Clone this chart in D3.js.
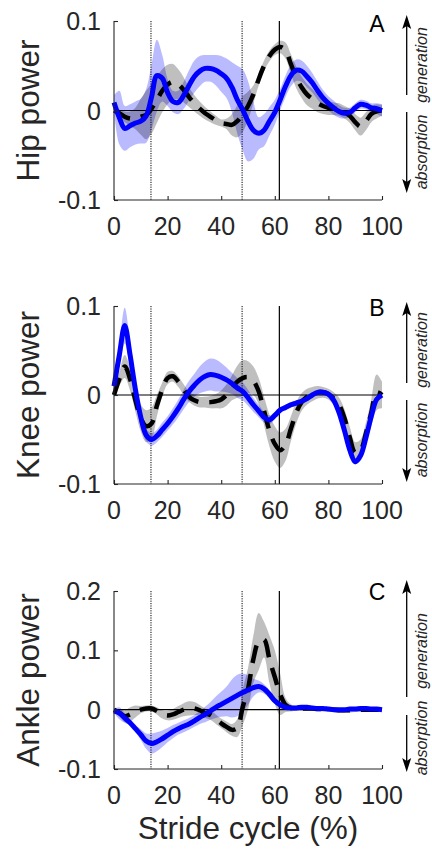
<!DOCTYPE html>
<html><head><meta charset="utf-8">
<script src="https://cdn.jsdelivr.net/npm/d3@7"></script>
<style>
body{margin:0;background:#fff}
svg{display:block}
text{font-family:"Liberation Sans",Arial,Helvetica,sans-serif;fill:#262626}
</style>
</head><body>
<svg id="chart" width="432" height="855"></svg>
<script>
// ---------- DATA ----------
const stride = [0,2,4,6,8,10,12,14,16,18,20,22,24,26,28,30,32,34,36,38,40,42,44,46,48,50,52,54,56,58,60,62,64,66,68,70,72,74,76,78,80,82,84,86,88,90,92,94,96,98,100];
const xTicks = [0,20,40,60,80,100];
const yTicksAB = [-0.1,0,0.1];
const yTicksC = [-0.1,0,0.1,0.2];
const dottedEvents = [13.8,47.8];
const solidEvents = [61.7];

const hipBlue = [0.009,-0.008,-0.020,-0.017,-0.014,-0.012,-0.006,0.015,0.039,0.036, 0.020,0.010,0.009,0.017,0.028,0.038,0.044,0.047,0.047,0.045, 0.041,0.036,0.026,0.012,0.001,-0.012,-0.022,-0.0255,-0.022,-0.012, -0.002,0.012,0.027,0.039,0.045,0.044,0.038,0.031,0.022,0.014, 0.008,0.003,-0.001,-0.003,-0.002,0.003,0.007,0.006,0.003,0.002, 0.0];
const hipBlueSd = [0.008,0.03,0.025,0.024,0.024,0.025,0.03,0.036,0.04,0.026, 0.015,0.012,0.013,0.015,0.017,0.018,0.017,0.015,0.015,0.017, 0.02,0.022,0.028,0.038,0.045,0.045,0.032,0.018,0.018,0.016, 0.014,0.012,0.012,0.012,0.012,0.012,0.012,0.011,0.01,0.009, 0.008,0.008,0.007,0.006,0.005,0.005,0.005,0.005,0.005,0.006, 0.007];
const hipBlack = [0,-0.003,-0.007,-0.009,-0.009,-0.007,-0.005,0.002,0.012,0.022, 0.029,0.032,0.029,0.023,0.015,0.008,0.002,-0.003,-0.007,-0.011, -0.014,-0.015,-0.016,-0.012,-0.004,0.005,0.018,0.035,0.05,0.061, 0.068,0.071,0.067,0.052,0.037,0.026,0.018,0.013,0.008,0.005, 0.003,0.002,0.001,-0.002,-0.006,-0.013,-0.018,-0.012,-0.004,-0.001, 0];
const hipGraySd = [0.003,0.004,0.006,0.008,0.012,0.02,0.027,0.028,0.026,0.024, 0.022,0.02,0.017,0.014,0.011,0.009,0.008,0.007,0.006,0.005, 0.004,0.006,0.012,0.018,0.02,0.016,0.01,0.007,0.006,0.006, 0.006,0.007,0.009,0.011,0.012,0.012,0.012,0.011,0.01,0.009, 0.008,0.007,0.007,0.007,0.008,0.009,0.01,0.01,0.009,0.008, 0.006];

const kneeBlue = [0.010,0.045,0.078,0.045,0.006,-0.025,-0.045,-0.050,-0.046,-0.039, -0.032,-0.024,-0.015,-0.005,0.004,0.011,0.017,0.021,0.023,0.022, 0.020,0.017,0.013,0.008,0.004,-0.003,-0.011,-0.018,-0.025,-0.028, -0.023,-0.017,-0.014,-0.011,-0.009,-0.007,-0.004,0.0,0.003,0.003, 0.001,-0.006,-0.02,-0.04,-0.062,-0.075,-0.068,-0.048,-0.024,-0.005, 0.0];
const kneeBlueSd = [0.005,0.012,0.02,0.015,0.01,0.008,0.007,0.007,0.007,0.008, 0.008,0.009,0.01,0.011,0.012,0.013,0.015,0.017,0.018,0.018, 0.016,0.014,0.012,0.011,0.01,0.009,0.008,0.007,0.006,0.005, 0.004,0.003,0.003,0.003,0.003,0.003,0.003,0.003,0.003,0.003, 0.003,0.003,0.003,0.003,0.003,0.003,0.003,0.003,0.003,0.003, 0.003];
const kneeBlack = [0.0,0.018,0.032,0.018,-0.006,-0.026,-0.035,-0.032,-0.012,0.006, 0.019,0.021,0.015,0.006,-0.002,-0.006,-0.008,-0.008,-0.008,-0.007, -0.005,0.0,0.008,0.015,0.019,0.02,0.016,0.004,-0.018,-0.04, -0.055,-0.062,-0.056,-0.038,-0.02,-0.008,-0.002,0.001,0.003,0.003, 0.001,-0.004,-0.011,-0.026,-0.048,-0.065,-0.062,-0.043,-0.02,0.003, 0.0];
const kneeGraySd = [0.003,0.008,0.013,0.013,0.013,0.015,0.018,0.018,0.012,0.008, 0.007,0.006,0.006,0.006,0.006,0.006,0.006,0.006,0.007,0.008, 0.01,0.012,0.014,0.018,0.02,0.018,0.016,0.015,0.016,0.018, 0.02,0.02,0.018,0.014,0.012,0.01,0.009,0.008,0.007,0.006, 0.006,0.007,0.008,0.01,0.012,0.012,0.012,0.012,0.015,0.02, 0.015];

const ankleBlue = [-0.002,-0.006,-0.014,-0.022,-0.032,-0.042,-0.053,-0.057,-0.054,-0.049, -0.043,-0.037,-0.032,-0.028,-0.024,-0.019,-0.013,-0.008,-0.002,0.004, 0.009,0.014,0.019,0.024,0.029,0.033,0.037,0.039,0.035,0.026, 0.015,0.008,0.004,0.003,0.003,0.004,0.004,0.003,0.002,0.002, 0.001,0.0,0.0,0.0,0.001,0.001,0.002,0.002,0.001,0.001, 0.0];
const ankleBlueSd = [0.003,0.01,0.008,0.005,0.006,0.009,0.013,0.017,0.016,0.014, 0.012,0.011,0.01,0.01,0.01,0.01,0.011,0.013,0.015,0.018, 0.021,0.025,0.032,0.035,0.032,0.025,0.015,0.01,0.008,0.007, 0.006,0.005,0.003,0.003,0.003,0.003,0.003,0.003,0.003,0.003, 0.003,0.003,0.003,0.003,0.003,0.003,0.003,0.003,0.003,0.003, 0.003];
const ankleBlack = [0.0,-0.005,-0.011,-0.008,-0.003,0.0,0.002,0.002,-0.002,-0.008, -0.010,-0.008,-0.004,0.0,0.002,0.002,-0.001,-0.006,-0.009,-0.016, -0.023,-0.029,-0.034,-0.031,0.004,0.035,0.085,0.115,0.118,0.085, 0.055,0.026,0.008,0.003,0.002,0.002,0.002,0.002,0.001,0.001, 0.0,0.0,-0.001,-0.001,-0.001,0.0,0.0,0.0,0.0,0.0, 0.0];
const ankleGraySd = [0.003,0.006,0.01,0.012,0.01,0.006,0.005,0.005,0.006,0.007, 0.008,0.009,0.01,0.011,0.012,0.011,0.009,0.008,0.008,0.008, 0.008,0.009,0.01,0.015,0.03,0.035,0.04,0.048,0.03,0.04, 0.045,0.035,0.012,0.006,0.004,0.004,0.004,0.004,0.004,0.004, 0.004,0.004,0.004,0.004,0.004,0.004,0.004,0.004,0.004,0.004, 0.004];

const yLabels = ["Hip power","Knee power","Ankle power"];
const panelLetters = ["A","B","C"];
const xLabel = "Stride cycle (%)";

// ---------- LAYOUT ----------
const svg = d3.select("#chart");
const left = 114, right = 382;
const layout = [
  {top:21, bottom:200, domain:[-0.1,0.1], ticks:yTicksAB, blue:hipBlue, blueSd:hipBlueSd, black:hipBlack, graySd:hipGraySd,
   arr:{t:15,m1:95,m2:112,b:193,gen:65,abs:152}, letterY:32},
  {top:306, bottom:484, domain:[-0.1,0.1], ticks:yTicksAB, blue:kneeBlue, blueSd:kneeBlueSd, black:kneeBlack, graySd:kneeGraySd,
   arr:{t:302,m1:383,m2:400,b:482,gen:350,abs:440}, letterY:316},
  {top:591, bottom:769, domain:[-0.1,0.2], ticks:yTicksC, blue:ankleBlue, blueSd:ankleBlueSd, black:ankleBlack, graySd:ankleGraySd,
   arr:{t:580,m1:697,m2:715,b:772,gen:651,abs:738}, letterY:600}
];

const x = d3.scaleLinear().domain([0,100]).range([left,right]);
const fmt = v => v === 0 ? "0" : String(v);

layout.forEach((p, i) => {
  const y = d3.scaleLinear().domain(p.domain).range([p.bottom, p.top]);
  const g = svg.append("g");
  const curve = d3.curveCatmullRom.alpha(0.5);

  const area = (m, s) => d3.area().curve(curve)
      .x((d, k) => x(stride[k]))
      .y0((d, k) => y(m[k] - Math.max(s[k], 0.0015)))
      .y1((d, k) => y(m[k] + Math.max(s[k], 0.0015)))(m);
  const line = m => d3.line().curve(curve).x((d, k) => x(stride[k])).y(d => y(d))(m);

  // bands
  g.append("path").attr("d", area(p.blue, p.blueSd)).attr("fill", "#0000ff").attr("fill-opacity", 0.27);
  g.append("path").attr("d", area(p.black, p.graySd)).attr("fill", "#000").attr("fill-opacity", 0.25);

  // zero line
  g.append("line").attr("x1", x(0)).attr("x2", x(100)).attr("y1", y(0)).attr("y2", y(0))
    .attr("stroke", "#000").attr("stroke-width", 1.2);

  // event lines
  dottedEvents.forEach(e => g.append("line").attr("x1", x(e)).attr("x2", x(e))
    .attr("y1", p.top).attr("y2", p.bottom).attr("stroke", "#000").attr("stroke-width", 1)
    .attr("stroke-dasharray", "1.2,1.2"));
  solidEvents.forEach(e => g.append("line").attr("x1", x(e)).attr("x2", x(e))
    .attr("y1", p.top).attr("y2", p.bottom).attr("stroke", "#000").attr("stroke-width", 1.2));

  // mean lines
  g.append("path").attr("d", line(p.black)).attr("fill", "none").attr("stroke", "#000")
    .attr("stroke-width", 4.5).attr("stroke-dasharray", "18,11");
  g.append("path").attr("d", line(p.blue)).attr("fill", "none").attr("stroke", "#0000ff")
    .attr("stroke-width", 5).attr("stroke-linejoin", "round");

  // axes
  const xAxis = g.append("g").attr("transform", `translate(0,${p.bottom})`)
    .call(d3.axisBottom(x).tickValues(xTicks).tickSize(-4).tickPadding(0).tickFormat(d => d));
  xAxis.select(".domain").attr("d", `M${left},0H${right}`);
  xAxis.selectAll(".tick text").remove();
  const yAxis = g.append("g").attr("transform", `translate(${left},0)`)
    .call(d3.axisLeft(y).tickValues(p.ticks).tickSize(-4).tickFormat(fmt));
  yAxis.select(".domain").attr("d", `M0,${p.top}V${p.bottom}`);
  yAxis.selectAll(".tick text").remove();
  [xAxis, yAxis].forEach(a => {
    a.selectAll(".domain,.tick line").attr("stroke", "#262626").attr("stroke-width", 1.1);
  });

  // tick labels
  g.selectAll(".xt").data(xTicks).join("text").attr("class", "xt")
    .attr("x", d => x(d)).attr("y", p.bottom + 35).attr("text-anchor", "middle")
    .attr("font-size", 25).text(d => d);
  g.selectAll(".yt").data(p.ticks).join("text").attr("class", "yt")
    .attr("x", 101).attr("y", d => y(d)).attr("dy", "0.36em").attr("text-anchor", "end")
    .attr("font-size", 25).text(fmt);

  // y label
  g.append("text").attr("transform", `translate(39,${(p.top + p.bottom) / 2}) rotate(-90)`)
    .attr("text-anchor", "middle").attr("font-size", 31.5).text(yLabels[i]);

  // panel letter
  g.append("text").attr("x", 377).attr("y", p.letterY).attr("text-anchor", "middle")
    .attr("font-size", 23).style("fill", "#000").text(panelLetters[i]);

  // right annotations
  const ax = 406.7, a = p.arr;
  g.append("line").attr("x1", ax).attr("x2", ax).attr("y1", a.m1).attr("y2", a.t + 10)
    .attr("stroke", "#000").attr("stroke-width", 1.3);
  g.append("path").attr("d", `M${ax},${a.t} L${ax - 4.5},${a.t + 14} L${ax},${a.t + 11} L${ax + 4.5},${a.t + 14} Z`).attr("fill", "#000");
  g.append("line").attr("x1", ax).attr("x2", ax).attr("y1", a.m2).attr("y2", a.b - 10)
    .attr("stroke", "#000").attr("stroke-width", 1.3);
  g.append("path").attr("d", `M${ax},${a.b} L${ax - 4.5},${a.b - 14} L${ax},${a.b - 11} L${ax + 4.5},${a.b - 14} Z`).attr("fill", "#000");
  g.append("text").attr("transform", `translate(427,${a.gen}) rotate(-90)`).attr("text-anchor", "middle")
    .attr("font-size", 16).attr("font-style", "italic").text("generation");
  g.append("text").attr("transform", `translate(427,${a.abs}) rotate(-90)`).attr("text-anchor", "middle")
    .attr("font-size", 16).attr("font-style", "italic").text("absorption");
});

svg.append("text").attr("x", (left + right) / 2).attr("y", 839).attr("text-anchor", "middle")
  .attr("font-size", 31.5).text(xLabel);
</script>
</body></html>
